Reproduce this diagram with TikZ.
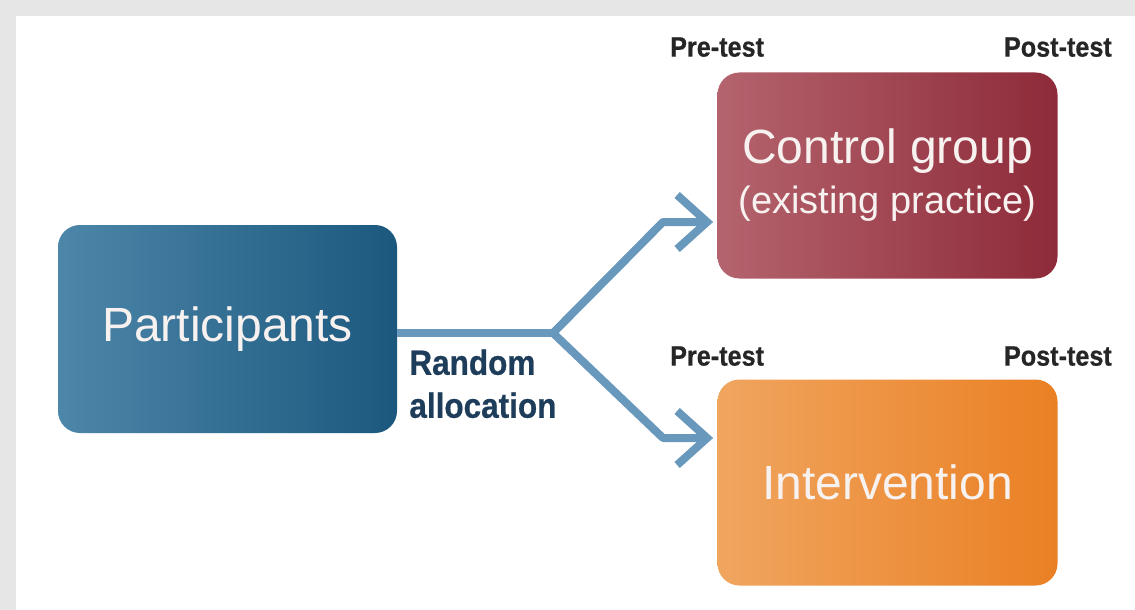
\documentclass[tikz,border=0pt]{standalone}
\usepackage{fontspec}
\setmainfont{Liberation Sans}
\newfontfamily\narrowbold{Liberation Sans}[FakeStretch=0.9,FakeBold=0.6,BoldFeatures={FakeStretch=0.9}]
\usetikzlibrary{arrows.meta}
\definecolor{bgGray}{HTML}{E6E6E6}
\definecolor{pLeft}{HTML}{4C86A9}
\definecolor{pRight}{HTML}{1C587E}
\definecolor{cLeft}{HTML}{B4646E}
\definecolor{cRight}{HTML}{8E2A39}
\definecolor{iLeft}{HTML}{F0A55F}
\definecolor{iRight}{HTML}{EA8024}
\definecolor{linkBlue}{HTML}{6898BC}
\definecolor{navyText}{HTML}{1E3D5A}
\definecolor{boxText}{HTML}{F7F2F0}
\tikzset{
  groupbox/.style={rounded corners=11pt, minimum width=170pt, minimum height=103pt,
    inner sep=0pt, text=boxText, align=center},
  link/.style={draw=linkBlue, line width=4pt, line join=round,
    -{Straight Barb[length=15pt,width=27pt,line width=4pt]}},
  trunk/.style={draw=linkBlue, line width=4pt, line join=round},
  testlabel/.style={font=\narrowbold\bfseries\fontsize{14}{16}\selectfont, text=black!85, inner sep=0pt}
}
\begin{document}
\begin{tikzpicture}[x=0.5pt,y=-0.5pt]
\useasboundingbox (0,0) rectangle (1135,610);
\fill[bgGray] (0,0) rectangle (1135,610);
\fill[white] (16,16) rectangle (1135,610);

\node[groupbox, left color=pLeft, right color=pRight, minimum width=169.5pt, minimum height=104pt,
  font=\fontsize{24}{28}\selectfont] (P) at (227.5,329) {Participants};

\node[groupbox, left color=cLeft, right color=cRight, font=\fontsize{24}{25}\selectfont] (C) at (887.5,175.5)
  {Control group\\{\fontsize{19}{25}\selectfont (existing practice)}};

\node[groupbox, left color=iLeft, right color=iRight, font=\fontsize{24}{28}\selectfont] (I) at (887.5,482.5) {Intervention};

\node[testlabel] (preC) at ([yshift=12.5pt]C.north west) {Pre-test};
\node[testlabel] (postC) at ([yshift=12.5pt]C.north east) {Post-test};
\node[testlabel] (preI) at ([yshift=11.5pt]I.north west) {Pre-test};
\node[testlabel] (postI) at ([yshift=11.5pt]I.north east) {Post-test};

\coordinate (j) at (553,333);
\coordinate (up) at (663,222);
\coordinate (lo) at (663,438);

\draw[trunk] (P.east |- j) -- (j);
\draw[link, shorten >=2pt] (j) -- (up) -- (C.west |- up);
\draw[link, shorten >=2pt] (j) -- (lo) -- (I.west |- lo);

\node[anchor=north west, inner sep=0pt, align=left, text=navyText,
  font=\narrowbold\bfseries\fontsize{17.5}{21.5}\selectfont] (ra) at (409,349) {Random\\allocation};
\end{tikzpicture}
\end{document}
